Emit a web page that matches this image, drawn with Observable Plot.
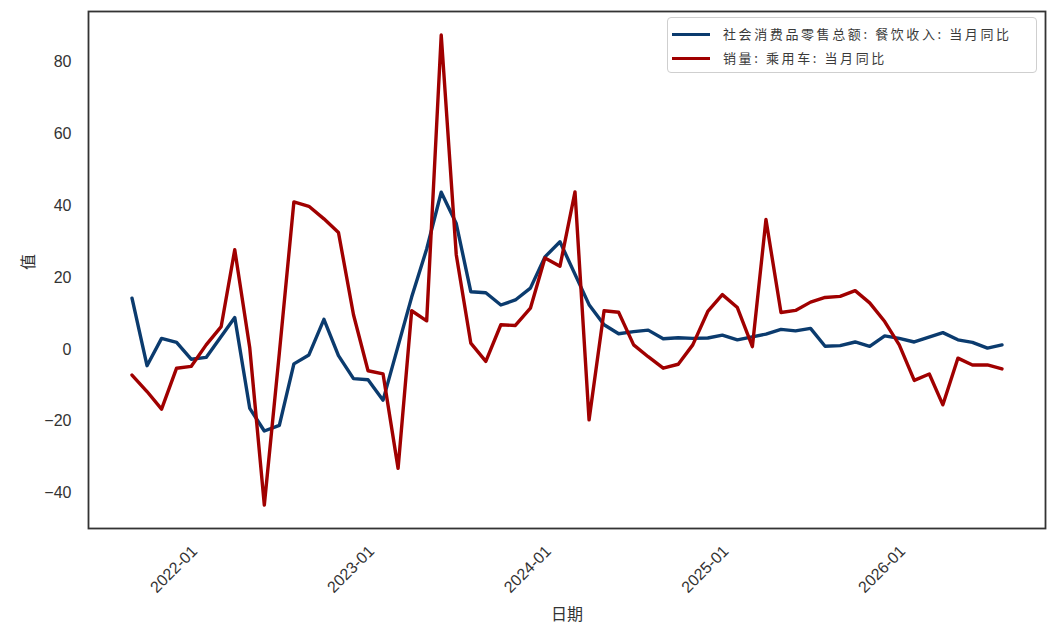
<!DOCTYPE html>
<html>
<head>
<meta charset="utf-8">
<script src="https://cdn.jsdelivr.net/npm/d3@7"></script>
<script src="https://cdn.jsdelivr.net/npm/@observablehq/plot@0.6"></script>
<style>
  html, body { margin: 0; padding: 0; background: #fff; }
  #wrap { position: relative; width: 1056px; height: 634px; }
  .legend {
    position: absolute; left: 667px; top: 17px; width: 370px; height: 56px;
    box-sizing: border-box; border: 1px solid #cfcfcf; border-radius: 4px;
    background: rgba(255,255,255,0.85);
    font-family: "Noto Sans CJK SC", sans-serif; font-size: 13px; color: #3a3a3a;
  }
  .row { position: absolute; left: 0; height: 20px; }
  .sw { position: absolute; left: 4px; width: 38px; height: 3px; }
  .lab { position: absolute; left: 55px; white-space: nowrap; letter-spacing: 2.6px; line-height: 20px; }
</style>
</head>
<body>
<div id="wrap"></div>
<script>
// ---- data ----
const months = [
  "2021-07","2021-08","2021-09","2021-10","2021-11","2021-12",
  "2022-01","2022-02","2022-03","2022-04","2022-05","2022-06","2022-07","2022-08","2022-09","2022-10","2022-11","2022-12",
  "2023-01","2023-02","2023-03","2023-04","2023-05","2023-06","2023-07","2023-08","2023-09","2023-10","2023-11","2023-12",
  "2024-01","2024-02","2024-03","2024-04","2024-05","2024-06","2024-07","2024-08","2024-09","2024-10","2024-11","2024-12",
  "2025-01","2025-02","2025-03","2025-04","2025-05","2025-06","2025-07","2025-08","2025-09","2025-10","2025-11","2025-12",
  "2026-01","2026-02","2026-03","2026-04","2026-05","2026-06"
];
const cateringYoY = [
  14.3, -4.5, 3.1, 2.0, -2.7, -2.2,
  null, 8.9, -16.4, -22.7, -21.1, -4.0, -1.5, 8.4, -1.7, -8.1, -8.4, -14.1,
  null, 14.6, 28.0, 43.8, 35.1, 16.1, 15.8, 12.4, 13.8, 17.1, 25.8, 30.0,
  null, 12.5, 6.9, 4.4, 5.0, 5.4, 3.0, 3.3, 3.1, 3.2, 4.0, 2.7,
  null, 4.3, 5.6, 5.2, 5.9, 0.9, 1.1, 2.1, 0.9, 3.8, 3.1, 2.1,
  null, 4.7, 2.7, 2.0, 0.4, 1.3
];
const carSalesYoY = [
  -7.1, -11.7, -16.6, -5.2, -4.7, 1.3,
  6.4, 27.8, 0.4, -43.3, -1.0, 41.1, 39.9, 36.4, 32.6, 9.7, -5.9, -6.8,
  -33.1, 10.8, 8.0, 87.6, 26.4, 1.8, -3.3, 6.9, 6.7, 11.5, 25.5, 23.2,
  43.9, -19.6, 10.8, 10.4, 1.3, -2.0, -5.2, -4.1, 1.3, 10.6, 15.3, 11.7,
  0.8, 36.2, 10.3, 10.9, 13.2, 14.5, 14.8, 16.4, 13.0, 7.8, 1.3, -8.6,
  -6.8, -15.4, -2.4, -4.3, -4.3, -5.4
];
const seriesNames = ["社会消费品零售总额: 餐饮收入: 当月同比", "销量: 乘用车: 当月同比"];
const seriesColors = ["#0b3b6e", "#a00000"];
const xTickLabels = ["2022-01","2023-01","2024-01","2025-01","2026-01"];
const yTicks = [-40, -20, 0, 20, 40, 60, 80];
const xLabel = "日期";
const yLabel = "值";

// ---- build ----
const monthEnd = s => { const [y, m] = s.split("-").map(Number); return new Date(Date.UTC(y, m, 0)); };
const rows = [];
[cateringYoY, carSalesYoY].forEach((vals, i) => {
  vals.forEach((v, j) => { if (v != null) rows.push({date: monthEnd(months[j]), value: v, series: seriesNames[i]}); });
});
const t0 = monthEnd(months[0]), t1 = monthEnd(months[months.length - 1]);
const tp = (t1 - t0) * 0.05;
const allV = rows.map(d => d.value);
const vmin = d3.min(allV), vmax = d3.max(allV), vp = (vmax - vmin) * 0.05;
const xTicks = xTickLabels.map(s => new Date(s + "-01"));

const chart = Plot.plot({
  width: 1056, height: 634,
  marginLeft: 88, marginRight: 11, marginTop: 11, marginBottom: 106,
  style: {fontFamily: "'Liberation Sans', Arial, sans-serif", fontSize: "16px", color: "#333", background: "#fff"},
  x: {type: "utc", domain: [new Date(+t0 - tp), new Date(+t1 + tp)]},
  y: {domain: [vmin - vp, vmax + vp]},
  color: {domain: seriesNames, range: seriesColors},
  marks: [
    Plot.line(rows.filter(d => d.series === seriesNames[0]), {x: "date", y: "value", stroke: "series", strokeWidth: 3.4}),
    Plot.line(rows.filter(d => d.series === seriesNames[1]), {x: "date", y: "value", stroke: "series", strokeWidth: 3.4}),
    Plot.frame({stroke: "#333", strokeWidth: 1.8}),
    Plot.axisX({ticks: xTicks, tickFormat: d3.utcFormat("%Y-%m"), tickSize: 0, tickPadding: 6, tickRotate: -45, label: null, fontSize: 16, textAnchor: "end", dx: -12, dy: 14}),
    Plot.axisY({ticks: yTicks, tickSize: 0, tickPadding: 17, label: null, fontSize: 16, tickFormat: d => d < 0 ? "\u2212" + Math.abs(d) : String(d)}),
    Plot.text([xLabel], {frameAnchor: "bottom", dy: 91, fontSize: 16, fill: "#333", fontFamily: "'Noto Sans CJK SC', sans-serif"}),
    Plot.text([yLabel], {frameAnchor: "left", dx: -60, rotate: -90, fontSize: 16, fill: "#333", fontFamily: "'Noto Sans CJK SC', sans-serif"})
  ]
});
const wrap = document.getElementById("wrap");
wrap.appendChild(chart);

// legend
const lg = document.createElement("div");
lg.className = "legend";
seriesNames.forEach((name, i) => {
  const row = document.createElement("div");
  row.className = "row";
  row.style.top = (6 + i * 24) + "px";
  row.style.width = "100%";
  const sw = document.createElement("div");
  sw.className = "sw"; sw.style.background = seriesColors[i]; sw.style.top = "9px";
  const lab = document.createElement("div");
  lab.className = "lab"; lab.textContent = name;
  row.appendChild(sw); row.appendChild(lab);
  lg.appendChild(row);
});
wrap.appendChild(lg);
</script>
</body>
</html>
